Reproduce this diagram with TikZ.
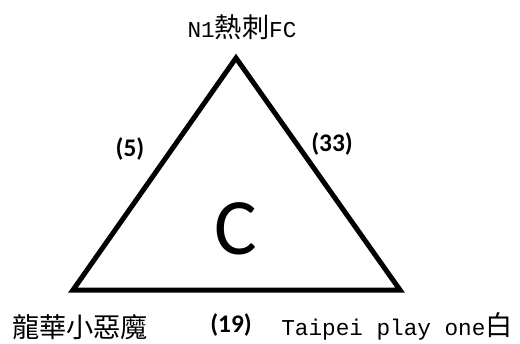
\documentclass[tikz,border=0pt]{standalone}
\usepackage{fontspec}
\setsansfont{Carlito}
\newfontfamily\latin{Liberation Mono}
\newfontfamily\cjk[Scale=1.2]{Noto Sans CJK TC}
\newcommand{\zh}[1]{{\cjk #1}}
\usetikzlibrary{calc}
\tikzstyle{every node}=[inner sep=0pt]
\tikzstyle{team}=[font=\latin\fontsize{17}{20}\selectfont]
\tikzstyle{score}=[font=\sffamily\bfseries\fontsize{19}{22}\selectfont]

\begin{document}
\begin{tikzpicture}[x=0.75pt, y=-0.75pt]
    \useasboundingbox (0, 0) rectangle (520, 343);

    \coordinate (N1) at (236, 58);
    \coordinate (LH) at (73, 290);
    \coordinate (TP) at (400, 290);

    \draw [line width=3.75pt] (N1) -- (LH) -- (TP) -- cycle;

    \node [team] (n1) at (242, 27) {N1\zh{熱刺}FC};
    \node [team] (lh) at (80, 327) {\zh{龍華小惡魔}};
    \node [team] (tp) at (397, 326) {Taipei play one\zh{白}};

    \node [score] (s5) at (130, 149) {(5)};
    \node [score] (s33) at (332, 144) {(33)};
    \node [score] (s19) at (231, 325) {(19)};

    \node [font=\sffamily\fontsize{60}{60}\selectfont] (c) at (236, 229) {C};
\end{tikzpicture}
\end{document}
